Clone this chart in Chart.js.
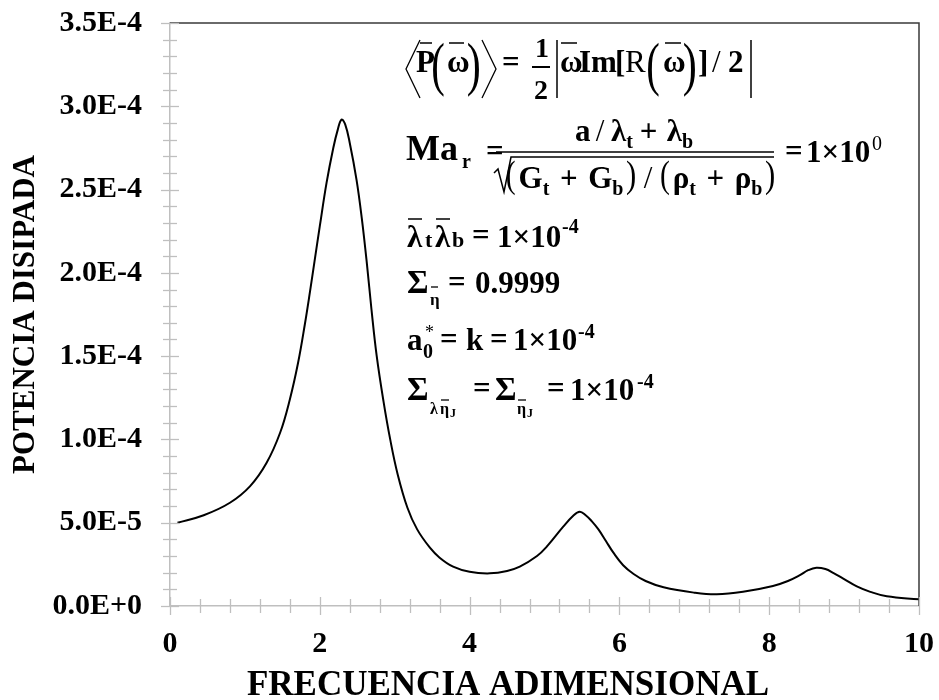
<!DOCTYPE html>
<html><head><meta charset="utf-8">
<script src="https://cdn.jsdelivr.net/npm/chart.js@4/dist/chart.umd.min.js"></script>
<style>html,body{margin:0;padding:0;background:#fff;}canvas{display:block;}</style>
</head><body>
<canvas id="c" width="939" height="700"></canvas>
<script>
// ---- data ----
const freq = [0.1,0.45,0.8,1.07,1.29,1.47,1.6,1.71,1.8,1.87,1.93,2.0,2.09,2.18,2.24,2.29,2.34,2.4,2.49,2.56,2.63,2.69,2.76,2.85,2.94,3.04,3.17,3.3,3.47,3.6,3.78,4.0,4.27,4.5,4.67,4.9,5.03,5.25,5.38,5.47,5.55,5.63,5.72,5.82,5.92,6.05,6.19,6.35,6.59,7.0,7.3,7.65,8.05,8.25,8.41,8.52,8.63,8.75,8.86,9.0,9.17,9.35,9.57,10.0];
const power = [5.0e-5,5.45e-5,6.2e-5,7.2e-5,8.6e-5,1.04e-4,1.24e-4,1.46e-4,1.69e-4,1.89e-4,2.07e-4,2.28e-4,2.54e-4,2.75e-4,2.86e-4,2.92e-4,2.89e-4,2.78e-4,2.56e-4,2.33e-4,2.05e-4,1.78e-4,1.5e-4,1.23e-4,1.0e-4,7.9e-5,5.9e-5,4.6e-5,3.5e-5,2.9e-5,2.36e-5,2.05e-5,1.96e-5,2.1e-5,2.36e-5,3.0e-5,3.56e-5,4.76e-5,5.4e-5,5.66e-5,5.45e-5,5.1e-5,4.6e-5,3.9e-5,3.2e-5,2.45e-5,1.92e-5,1.5e-5,1.12e-5,8.0e-6,7.0e-6,8.5e-6,1.2e-5,1.5e-5,1.85e-5,2.15e-5,2.3e-5,2.22e-5,1.98e-5,1.62e-5,1.18e-5,8.5e-6,5.8e-6,4.0e-6];
const xTicks = [0,2,4,6,8,10];
const xTickLabels = ['0','2','4','6','8','10'];
const yTicks = [0,5e-5,1e-4,1.5e-4,2e-4,2.5e-4,3e-4,3.5e-4];
const yTickLabels = ['0.0E+0','5.0E-5','1.0E-4','1.5E-4','2.0E-4','2.5E-4','3.0E-4','3.5E-4'];
const xMinorStep = 0.4;
const yMinorStep = 1e-5;
const xTitle = 'FRECUENCIA ADIMENSIONAL';
const yTitle = 'POTENCIA DISIPADA';

const FONT = "'Liberation Serif', 'Times New Roman', serif";

function T(ctx, s, x, y, size, weight) {
  ctx.font = (weight || 'bold') + ' ' + size + 'px ' + FONT;
  ctx.textAlign = 'left'; ctx.textBaseline = 'alphabetic';
  ctx.fillText(s, x, y);
}
function L(ctx, pts, w) {
  ctx.beginPath(); ctx.lineWidth = w || 1.5;
  ctx.moveTo(pts[0][0], pts[0][1]);
  for (let i = 1; i < pts.length; i++) ctx.lineTo(pts[i][0], pts[i][1]);
  ctx.stroke();
}
function fitChar(ctx, ch, x, top, bottom, w, weight) {
  ctx.save();
  ctx.font = (weight || 'normal') + ' 100px ' + FONT;
  ctx.textAlign = 'left'; ctx.textBaseline = 'alphabetic';
  const m = ctx.measureText(ch);
  const a = m.actualBoundingBoxAscent, d = m.actualBoundingBoxDescent;
  const l = m.actualBoundingBoxLeft, r = m.actualBoundingBoxRight;
  const sy = (bottom - top) / (a + d), sx = w / (l + r);
  ctx.translate(x + l * sx, top + a * sy);
  ctx.scale(sx, sy);
  ctx.fillText(ch, 0, 0);
  ctx.restore();
}
// lay out a row of pieces between x0 and x1, stretching the gaps
function flow(ctx, items, x0, x1, base) {
  let W = 0, G = 0;
  items.forEach(it => {
    if (it.p) it.w = it.p.w;
    else { ctx.font = (it.weight || 'bold') + ' ' + (it.size || 31) + 'px ' + FONT; it.w = ctx.measureText(it.s).width; }
    W += it.w; G += it.g || 0;
  });
  const k = G > 0 ? (x1 - x0 - W) / G : 0;
  let x = x0;
  items.forEach(it => {
    x += (it.g || 0) * k;
    if (it.p) fitChar(ctx, it.s, x, it.p.top, it.p.bot, it.w);
    else T(ctx, it.s, x, base + (it.dy || 0), it.size || 31, it.weight);
    x += it.w;
  });
}

const decor = {
  id: 'decor',
  afterDraw(chart) {
    const ctx = chart.ctx, ca = chart.chartArea;
    const xs = chart.scales.x, ys = chart.scales.y;
    ctx.save();
    // top & right frame
    ctx.strokeStyle = '#3a3a3a';
    L(ctx, [[ca.left, ca.top], [ca.right, ca.top], [ca.right, ca.bottom]], 1.5);
    // ticks crossing axes
    ctx.strokeStyle = '#bfbfbf';
    const y0 = ys.getPixelForValue(0), x0 = xs.getPixelForValue(0);
    const nx = Math.round((xs.max - xs.min) / xMinorStep);
    for (let i = 0; i <= nx; i++) {
      const v = xs.min + i * xMinorStep;
      const p = Math.round(xs.getPixelForValue(v)) + 0.5;
      const major = xTicks.some(t => Math.abs(t - v) < 1e-9);
      const h = major ? 9 : 7;
      L(ctx, [[p, y0 - h], [p, y0 + h]], 1.3);
    }
    const ny = Math.round((ys.max - ys.min) / yMinorStep);
    for (let i = 0; i <= ny; i++) {
      const v = ys.min + i * yMinorStep;
      const p = Math.round(ys.getPixelForValue(v)) + 0.5;
      const major = yTicks.some(t => Math.abs(t - v) < 1e-12);
      const h = major ? 9 : 7;
      L(ctx, [[x0 - h, p], [x0 + h, p]], 1.3);
    }
    // x axis title
    ctx.fillStyle = '#000';
    ctx.font = 'bold 35px ' + FONT;
    ctx.textAlign = 'center'; ctx.textBaseline = 'alphabetic';
    ctx.fillText(xTitle, 508, 695);

    // ---- annotation formulas ----
    ctx.fillStyle = '#000'; ctx.strokeStyle = '#000';
    // line 1
    L(ctx, [[420, 40], [406, 69], [420, 98]], 1.3);
    L(ctx, [[420, 43], [432, 43]], 1.5);
    T(ctx, 'P', 416, 72, 31);
    fitChar(ctx, '(', 433, 42, 97, 11);
    L(ctx, [[449, 43], [464, 43]], 1.5);
    T(ctx, 'ω', 447, 72, 31);
    fitChar(ctx, ')', 468, 42, 97, 11);
    L(ctx, [[482, 40], [496, 69], [482, 98]], 1.3);
    T(ctx, '=', 502, 72, 31);
    T(ctx, '1', 535, 57, 28);
    L(ctx, [[532, 67], [550, 67]], 2);
    T(ctx, '2', 534, 99, 28);
    L(ctx, [[557, 40], [557, 98]], 1.5);
    L(ctx, [[561, 43], [577, 43]], 1.5);
    T(ctx, 'ω', 560, 72, 31);
    T(ctx, 'Im', 579, 72, 31);
    T(ctx, '[', 615, 72, 31);
    T(ctx, 'R', 625, 72, 31, 'normal');
    fitChar(ctx, '(', 648, 42, 97, 11);
    L(ctx, [[665, 43], [681, 43]], 1.5);
    T(ctx, 'ω', 663, 72, 31);
    fitChar(ctx, ')', 684, 42, 97, 11);
    T(ctx, ']', 698, 72, 31);
    T(ctx, '/', 712, 72, 31, 'normal');
    T(ctx, '2', 728, 72, 31);
    L(ctx, [[751, 40], [751, 98]], 1.5);

    // line 2
    T(ctx, 'Ma', 406, 160, 36);
    T(ctx, 'r', 462, 168, 20);
    T(ctx, '=', 486, 161, 31);
    L(ctx, [[496, 152], [774, 152]], 1.5);
    flow(ctx, [
      { s: 'a' }, { s: '/', weight: 'normal', g: 4 }, { s: 'λ', g: 5 }, { s: 't', size: 20, dy: 7 },
      { s: '+', g: 5 }, { s: 'λ', g: 7 }, { s: 'b', size: 20, dy: 7 }
    ], 575, 693, 141);
    L(ctx, [[494, 173], [498, 169], [504, 192], [511, 157], [774, 157]], 1.5);
    const P = { top: 161, bot: 195, w: 8 };
    flow(ctx, [
      { s: '(', p: P }, { s: 'G', g: 2 }, { s: 't', size: 20, dy: 7 }, { s: '+', g: 6 }, { s: 'G', g: 6 },
      { s: 'b', size: 20, dy: 7 }, { s: ')', p: P, g: 2 }, { s: '/', weight: 'normal', g: 5 },
      { s: '(', p: P, g: 5 }, { s: 'ρ', g: 2 }, { s: 't', size: 20, dy: 7 }, { s: '+', g: 6 }, { s: 'ρ', g: 6 },
      { s: 'b', size: 20, dy: 7 }, { s: ')', p: P, g: 2 }
    ], 507, 774, 188);
    T(ctx, '=', 785, 161, 31);
    T(ctx, '1×10', 806, 162, 31);
    T(ctx, '0', 872, 150, 20, 'normal');

    // line 3
    L(ctx, [[408, 219], [422, 219]], 1.5);
    T(ctx, 'λ', 407, 247, 31);
    T(ctx, 't', 425, 247, 22);
    L(ctx, [[436, 219], [450, 219]], 1.5);
    T(ctx, 'λ', 435, 247, 31);
    T(ctx, 'b', 452, 247, 22);
    T(ctx, '=', 472, 245, 31);
    T(ctx, '1×10', 497, 247, 31);
    T(ctx, '-4', 562, 233, 20);

    // line 4
    T(ctx, 'Σ', 407, 293, 33);
    L(ctx, [[431, 287], [438, 287]], 1.3);
    T(ctx, 'η', 430, 305, 17);
    T(ctx, '=', 448, 292, 31);
    T(ctx, '0.9999', 475, 293, 31);

    // line 5
    T(ctx, 'a', 407, 350, 31);
    T(ctx, '0', 423, 358, 20);
    T(ctx, '*', 425, 338, 18, 'normal');
    T(ctx, '=', 440, 349, 31);
    T(ctx, 'k', 466, 350, 31);
    T(ctx, '=', 490, 349, 31);
    T(ctx, '1×10', 513, 350, 31);
    T(ctx, '-4', 578, 338, 20);

    // line 6
    T(ctx, 'Σ', 407, 400, 33);
    T(ctx, 'λ', 430, 414, 16);
    L(ctx, [[441, 400], [449, 400]], 1.3);
    T(ctx, 'η', 440, 414, 16);
    T(ctx, 'J', 450, 417, 12);
    T(ctx, '=', 473, 398, 31);
    T(ctx, 'Σ', 495, 400, 33);
    L(ctx, [[518, 400], [526, 400]], 1.3);
    T(ctx, 'η', 517, 414, 16);
    T(ctx, 'J', 527, 417, 12);
    T(ctx, '=', 547, 398, 31);
    T(ctx, '1×10', 570, 400, 31);
    T(ctx, '-4', 637, 388, 20);
    ctx.restore();
  }
};

function noPad(s) { s.paddingTop = 0; s.paddingBottom = 0; s.paddingLeft = 0; s.paddingRight = 0; }

new Chart(document.getElementById('c'), {
  type: 'line',
  data: {
    datasets: [{
      data: freq.map((x, i) => ({ x: x, y: power[i] })),
      borderColor: '#000',
      borderWidth: 2,
      pointRadius: 0,
      fill: false,
      tension: 0.4
    }]
  },
  options: {
    responsive: false,
    animation: false,
    devicePixelRatio: 1,
    layout: { padding: { top: 23, right: 20, left: 0, bottom: 0 } },
    plugins: { legend: { display: false }, tooltip: { enabled: false } },
    scales: {
      x: {
        type: 'linear', min: 0, max: 10,
        afterBuildTicks: s => { s.ticks = xTicks.map(v => ({ value: v })); },
        afterFit: s => { s.height = 94; noPad(s); },
        grid: { display: false, drawTicks: false },
        border: { display: true, color: '#bfbfbf', width: 1.5 },
        ticks: {
          autoSkip: false, maxRotation: 0, padding: 20, color: '#000',
          font: { family: FONT, size: 30, weight: 'bold' },
          callback: v => xTickLabels[xTicks.indexOf(v)]
        }
      },
      y: {
        type: 'linear', min: 0, max: 3.5e-4,
        afterBuildTicks: s => { s.ticks = yTicks.map(v => ({ value: v })); },
        afterFit: s => { s.width = 170; noPad(s); },
        grid: { display: false, drawTicks: false },
        border: { display: true, color: '#bfbfbf', width: 1.5 },
        title: { display: true, text: yTitle, color: '#000', padding: { top: 7, bottom: 0 },
                 font: { family: FONT, size: 31, weight: 'bold' } },
        ticks: {
          autoSkip: false, padding: 28, color: '#000',
          font: { family: FONT, size: 30, weight: 'bold' },
          callback: v => { const i = yTicks.findIndex(t => Math.abs(t - v) < 1e-12); return i >= 0 ? yTickLabels[i] : ''; }
        }
      }
    }
  },
  plugins: [decor]
});
</script>
</body></html>
